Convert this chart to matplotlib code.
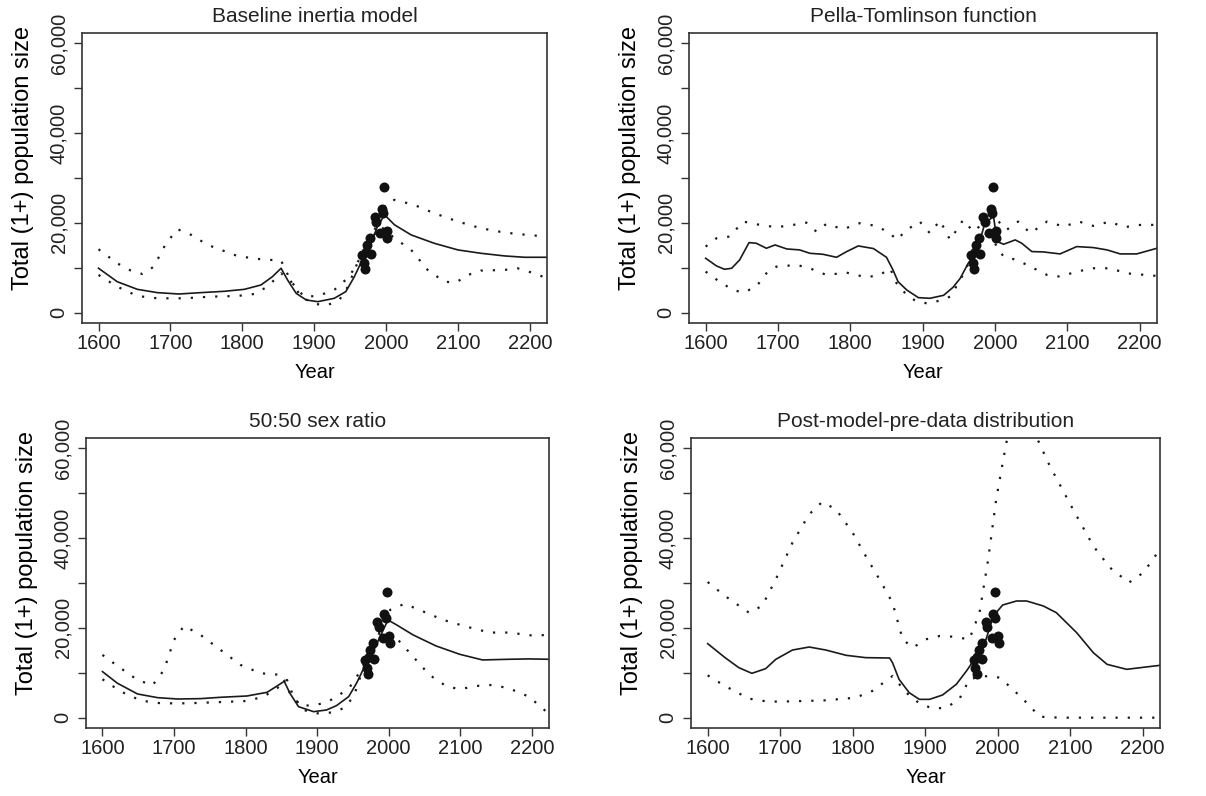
import matplotlib
matplotlib.use("Agg")
import matplotlib.pyplot as plt

plt.rcParams['font.family'] = ['Liberation Sans', 'DejaVu Sans']
plt.rcParams['text.color'] = '#222222'
plt.rcParams['axes.edgecolor'] = '#333333'
plt.rcParams['xtick.color'] = '#333333'
plt.rcParams['ytick.color'] = '#333333'
plt.rcParams['xtick.labelcolor'] = '#222222'
plt.rcParams['ytick.labelcolor'] = '#222222'

# survey abundance estimates (same in every panel)
obs_year = [1967, 1969, 1971, 1972, 1974, 1978, 1979, 1984, 1986, 1992, 1994, 1996, 1997, 2001, 2002]
obs_n = [12900, 11000, 9700, 13600, 15100, 16700, 13000, 21400, 20300, 17700, 23000, 22200, 27900, 18100, 16700]

# ticks every 10,000, labels only where they fit (as R draws them)
y_ticks = [0, 10000, 20000, 30000, 40000, 50000, 60000]
y_labels = ['0', '', '20,000', '', '40,000', '', '60,000']
x_ticks = [1600, 1700, 1800, 1900, 2000, 2100, 2200]

# --- Baseline inertia model
base_mid_yr = [1600, 1626, 1654, 1682, 1712, 1742, 1775, 1803, 1826, 1842, 1854, 1863, 1875, 1889, 1905, 1928, 1944, 1956, 1967, 1979, 1988, 1998, 2012, 2035, 2067, 2100, 2132, 2165, 2193, 2224]
base_mid_n = [9900, 6900, 5200, 4460, 4160, 4460, 4760, 5200, 6170, 8030, 9890, 7290, 4310, 2830, 2450, 3200, 4680, 8030, 11750, 15460, 19180, 21780, 19550, 17320, 15460, 13980, 13230, 12640, 12340, 12340]
base_hi_yr = [1600, 1626, 1645, 1661, 1677, 1694, 1710, 1729, 1752, 1793, 1821, 1854, 1868, 1886, 1905, 1928, 1949, 1965, 1979, 1991, 2000, 2012, 2039, 2067, 2100, 2132, 2165, 2197, 2224]
base_hi_n = [14130, 11000, 9370, 8620, 10260, 15460, 18590, 17320, 15090, 12640, 11970, 11600, 6910, 3570, 3720, 5060, 8030, 12490, 16210, 21410, 24390, 25130, 24020, 22160, 20300, 18810, 17840, 17320, 16950]
base_lo_yr = [1600, 1626, 1654, 1682, 1719, 1756, 1793, 1817, 1835, 1854, 1868, 1882, 1900, 1919, 1935, 1947, 1960, 1974, 1993, 2012, 2035, 2058, 2081, 2097, 2114, 2132, 2165, 2183, 2206, 2224]
base_lo_n = [8400, 5800, 3720, 3200, 3200, 3570, 3720, 4160, 5800, 8770, 6900, 3570, 1930, 1710, 2830, 5800, 11000, 15460, 19180, 16580, 13980, 9520, 6910, 6690, 8400, 9370, 9520, 9890, 8770, 7660]

# --- Pella-Tomlinson function
pt_mid_yr = [1600, 1615, 1626, 1636, 1647, 1660, 1670, 1684, 1696, 1712, 1730, 1744, 1762, 1781, 1795, 1811, 1832, 1850, 1859, 1866, 1878, 1894, 1910, 1929, 1942, 1952, 1963, 1975, 1986, 1998, 2003, 2012, 2028, 2037, 2051, 2067, 2090, 2113, 2136, 2155, 2173, 2196, 2224]
pt_mid_n = [12120, 10410, 9670, 9890, 11750, 15610, 15460, 14350, 15090, 14200, 13980, 13230, 13010, 12340, 13610, 14870, 14280, 12340, 9520, 6910, 5060, 3350, 3200, 3870, 5650, 7660, 11000, 13610, 19930, 21400, 15840, 15240, 16210, 15460, 13610, 13530, 13090, 14720, 14500, 13980, 13090, 13090, 14350]
pt_hi_yr = [1600, 1615, 1633, 1652, 1675, 1698, 1721, 1739, 1753, 1767, 1790, 1813, 1836, 1855, 1864, 1878, 1896, 1910, 1924, 1938, 1956, 1970, 1984, 2002, 2016, 2032, 2049, 2072, 2095, 2116, 2136, 2159, 2178, 2201, 2224]
pt_hi_n = [14720, 16580, 16950, 20300, 19550, 19030, 19550, 20070, 18070, 19780, 18590, 19930, 19330, 17700, 16210, 18440, 20300, 17700, 20520, 16210, 20670, 18070, 19930, 20820, 18440, 20300, 17700, 20300, 19180, 20300, 19330, 20300, 19030, 19550, 19550]
pt_lo_yr = [1600, 1619, 1638, 1652, 1670, 1684, 1698, 1726, 1744, 1767, 1795, 1822, 1841, 1855, 1864, 1878, 1892, 1906, 1924, 1938, 1952, 1966, 1979, 1993, 2002, 2012, 2030, 2049, 2072, 2090, 2113, 2136, 2159, 2182, 2224]
pt_lo_n = [9150, 6910, 5060, 4460, 5800, 8770, 10260, 10630, 9890, 8400, 8920, 7880, 8400, 9890, 6540, 3940, 2450, 2080, 2680, 3570, 7290, 11750, 15460, 18810, 14720, 12490, 11750, 10260, 8400, 8030, 9150, 9890, 9890, 8770, 8180]

# --- 50:50 sex ratio
sr_mid_yr = [1600, 1621, 1649, 1677, 1705, 1737, 1765, 1802, 1830, 1844, 1854, 1862, 1874, 1895, 1913, 1927, 1944, 1955, 1964, 1976, 1988, 1999, 2011, 2034, 2066, 2099, 2131, 2168, 2196, 2224]
sr_mid_n = [10260, 7660, 5280, 4460, 4160, 4240, 4540, 4830, 5650, 7060, 8100, 5430, 2450, 1340, 1710, 2680, 4680, 7660, 10630, 13980, 18070, 21780, 20670, 18440, 15990, 14130, 12860, 13010, 13090, 13010]
sr_hi_yr = [1600, 1621, 1649, 1670, 1686, 1700, 1714, 1737, 1765, 1793, 1821, 1851, 1862, 1876, 1890, 1909, 1927, 1946, 1960, 1974, 1988, 2002, 2022, 2043, 2076, 2108, 2141, 2168, 2201, 2224]
sr_hi_n = [13980, 11520, 8400, 7210, 10630, 17320, 20450, 18440, 15090, 11750, 9890, 9520, 5430, 2830, 2680, 3200, 4540, 6910, 10260, 14720, 19550, 24020, 25350, 24020, 21780, 20300, 18960, 18960, 18290, 18440]
sr_lo_yr = [1600, 1626, 1654, 1682, 1719, 1756, 1802, 1825, 1844, 1858, 1867, 1881, 1900, 1918, 1937, 1951, 1962, 1974, 1988, 2011, 2034, 2057, 2080, 2099, 2122, 2145, 2168, 2196, 2224]
sr_lo_n = [8550, 5800, 3790, 3200, 3200, 3420, 3720, 4680, 6540, 8400, 4680, 1710, 970, 1120, 2080, 4680, 9890, 14720, 19180, 17700, 13610, 9520, 7060, 6320, 7060, 7290, 6540, 4680, 820]

# --- Post-model-pre-data distribution
pm_mid_yr = [1600, 1624, 1643, 1661, 1680, 1694, 1717, 1740, 1763, 1791, 1818, 1851, 1855, 1864, 1878, 1892, 1906, 1924, 1943, 1957, 1968, 1984, 1994, 2007, 2026, 2040, 2063, 2081, 2109, 2132, 2151, 2178, 2197, 2224]
pm_mid_n = [16490, 13370, 11140, 9880, 10920, 13000, 15070, 15740, 15070, 13890, 13370, 13290, 12250, 8540, 5570, 4080, 4080, 5050, 7430, 10400, 13000, 17450, 22650, 25100, 25990, 25990, 24880, 23390, 18940, 14480, 11880, 10770, 11140, 11660]
pm_hi_yr = [1600, 1624, 1657, 1675, 1694, 1717, 1740, 1758, 1777, 1800, 1818, 1837, 1855, 1869, 1883, 1901, 1920, 1938, 1961, 1975, 1987, 1998, 2012, 2025, 2040, 2054, 2072, 2104, 2132, 2155, 2181, 2201, 2224]
pm_hi_n = [30220, 27100, 23390, 24880, 30820, 38990, 45300, 48050, 46410, 41210, 36020, 30820, 25620, 17450, 15590, 17450, 18190, 18040, 17450, 23390, 35270, 48640, 61260, 68000, 68000, 62380, 56070, 46410, 38240, 33420, 30080, 32300, 37500]
pm_lo_yr = [1600, 1624, 1657, 1684, 1717, 1763, 1804, 1827, 1855, 1874, 1892, 1911, 1929, 1947, 1961, 1975, 1989, 2003, 2021, 2040, 2058, 2086, 2224]
pm_lo_n = [9430, 7050, 4230, 3560, 3640, 3860, 4460, 5940, 9280, 5570, 3190, 2000, 2230, 4080, 8540, 9130, 9280, 8910, 6310, 3340, 220, 0, 0]

panels = [
    ("Baseline inertia model", [82, 323, 465], base_mid_yr, base_mid_n, base_hi_yr, base_hi_n, base_lo_yr, base_lo_n),
    ("Pella-Tomlinson function", [689, 323, 468], pt_mid_yr, pt_mid_n, pt_hi_yr, pt_hi_n, pt_lo_yr, pt_lo_n),
    ("50:50 sex ratio", [86, 728, 463], sr_mid_yr, sr_mid_n, sr_hi_yr, sr_hi_n, sr_lo_yr, sr_lo_n),
    ("Post-model-pre-data distribution", [691, 728, 469], pm_mid_yr, pm_mid_n, pm_hi_yr, pm_hi_n, pm_lo_yr, pm_lo_n),
]

W, H = 1206, 796
fig = plt.figure(figsize=(W / 100, H / 100), dpi=100)
dotted = (0, (1, 4.5))

for title, box, myr, mn, hyr, hn, lyr, ln in panels:
    left, bottom, width = box
    ax = fig.add_axes([left / W, (H - bottom) / H, width / W, 290 / H])
    ax.plot(myr, mn, color='#1a1a1a', lw=1.2)
    ax.plot(hyr, hn, color='#1a1a1a', lw=1.6, ls=dotted)
    ax.plot(lyr, ln, color='#1a1a1a', lw=1.6, ls=dotted)
    ax.plot(obs_year, obs_n, 'o', color='#111111', ms=7.2, mec='none')
    ax.set_xlim(1577, 2224)
    ax.set_ylim(-2300, 62300)
    ax.set_xticks(x_ticks)
    ax.set_yticks(y_ticks)
    ax.set_yticklabels(y_labels)
    ax.tick_params(axis='both', labelsize=14.5, length=6, width=1.0, direction='out')
    ax.tick_params(axis='y', pad=4)
    ax.tick_params(axis='x', pad=2)
    for lab in ax.get_yticklabels():
        lab.set_rotation(90)
        lab.set_va('center')
    for sp in ax.spines.values():
        sp.set_linewidth(1.2)
    ax.set_title(title, fontsize=15, pad=8)
    ax.set_xlabel("Year", fontsize=14.5, labelpad=7)
    ax.set_ylabel("Total (1+) population size", fontsize=17)
    ax.yaxis.set_label_coords(-59 / width, 0.57)
    ax.yaxis.label.set_va('center')

fig.savefig("out.png", dpi=100)
